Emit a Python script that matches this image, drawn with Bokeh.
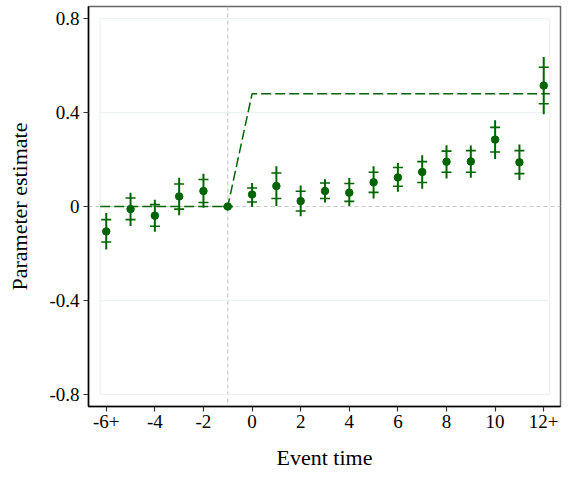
from bokeh.plotting import figure
from bokeh.models import FixedTicker, Range1d, ColumnDataSource, Span
from bokeh.embed import file_html
from bokeh.resources import INLINE

# ---- data ----
event_time = [-6, -5, -4, -3, -2, -1, 0, 1, 2, 3, 4, 5, 6, 7, 8, 9, 10, 11, 12]
estimate   = [-0.106, -0.011, -0.039, 0.043, 0.066, 0.0, 0.051, 0.087, 0.023, 0.066, 0.059,
              0.103, 0.124, 0.147, 0.191, 0.192, 0.285, 0.188, 0.515]
outer_hi   = [-0.028, 0.059, 0.029, 0.123, 0.139, 0.0, 0.100, 0.171, 0.089, 0.116, 0.121,
              0.171, 0.185, 0.218, 0.261, 0.260, 0.367, 0.264, 0.637]
outer_lo   = [-0.183, -0.083, -0.108, -0.037, -0.005, 0.0, -0.002, 0.002, -0.042, 0.017, 0.002,
              0.034, 0.063, 0.076, 0.119, 0.122, 0.202, 0.113, 0.393]
inner_hi   = [-0.056, 0.036, 0.008, 0.096, 0.115, 0.0, 0.079, 0.143, 0.065, 0.100, 0.098,
              0.146, 0.166, 0.191, 0.236, 0.238, 0.337, 0.238, 0.593]
inner_lo   = [-0.151, -0.056, -0.084, -0.011, 0.017, 0.0, 0.019, 0.034, -0.019, 0.034, 0.022,
              0.060, 0.086, 0.102, 0.146, 0.146, 0.232, 0.140, 0.438]

# true effect path
true_x = [-6.25, -1, 0, 12.25]
true_y = [0.0, 0.0, 0.48, 0.48]

x_ticks = [-6, -4, -2, 0, 2, 4, 6, 8, 10, 12]
x_labels = ["-6+", "-4", "-2", "0", "2", "4", "6", "8", "10", "12+"]
y_ticks = [-0.8, -0.4, 0, 0.4, 0.8]
y_labels = ["-0.8", "-0.4", "0", "0.4", "0.8"]

FONT = "Liberation Serif"
GREEN = "#006400"

p = figure(width=562, height=472, output_backend="svg", toolbar_location=None,
           x_range=Range1d(-6.73, 12.69), y_range=Range1d(-0.852, 0.852),
           min_border_left=88, min_border_right=2, min_border_top=6, min_border_bottom=66)

p.xgrid.visible = False
p.ygrid.visible = False
p.background_fill_color = "white"
p.outline_line_color = "#666666"
p.outline_line_width = 1.5

# light panel grid (at y ticks and x limits of data area)
gx0, gx1 = -6.25, 12.25
gl = [t for t in y_ticks if t != 0]
p.segment(x0=[gx0] * len(gl), x1=[gx1] * len(gl), y0=gl, y1=gl,
          line_color="#eaf2f2", line_width=1.2)
p.segment(x0=[gx0, gx1], x1=[gx0, gx1], y0=[y_ticks[0]] * 2, y1=[y_ticks[-1]] * 2,
          line_color="#eaf2f2", line_width=1.2)

# reference lines
p.add_layout(Span(location=0, dimension="width", line_color="#c8c8c8",
                  line_dash="4 3", line_width=1.2, level="underlay"))
p.add_layout(Span(location=-1, dimension="height", line_color="#c8c8c8",
                  line_dash="4 3", line_width=1.2, level="underlay"))

# true effect line
p.line(true_x, true_y, line_color=GREEN, line_dash="10 4", line_width=1.5)

src = ColumnDataSource(dict(x=event_time, y=estimate, ohi=outer_hi, olo=outer_lo,
                            ihi=inner_hi, ilo=inner_lo))
p.segment(x0="x", x1="x", y0="olo", y1="ohi", source=src, line_color=GREEN, line_width=2)
p.scatter(x="x", y="ihi", marker="dash", size=10, line_width=1.6, line_color=GREEN, source=src)
p.scatter(x="x", y="ilo", marker="dash", size=10, line_width=1.6, line_color=GREEN, source=src)
p.scatter(x="x", y="y", size=7.5, fill_color=GREEN, line_color=GREEN, source=src)

# axes
for ax in (p.xaxis[0], p.yaxis[0]):
    ax.axis_line_color = "black"
    ax.axis_line_width = 1.5
    ax.major_tick_line_color = "#333333"
    ax.major_tick_line_width = 1.2
    ax.major_tick_out = 5
    ax.major_tick_in = 0
    ax.minor_tick_line_color = None
    ax.major_label_text_font = FONT
    ax.major_label_text_font_size = "19px"
    ax.major_label_text_color = "black"
    ax.axis_label_text_font = FONT
    ax.axis_label_text_font_size = "22px"
    ax.axis_label_text_font_style = "normal"
    ax.axis_label_text_color = "black"

p.xaxis.ticker = FixedTicker(ticks=x_ticks)
p.xaxis.major_label_overrides = {t: l for t, l in zip(x_ticks, x_labels)}
p.yaxis.ticker = FixedTicker(ticks=y_ticks)
p.yaxis.major_label_overrides = {t: l for t, l in zip(y_ticks, y_labels)}
p.xaxis.axis_label = "Event time"
p.yaxis.axis_label = "Parameter estimate"
p.xaxis.axis_label_standoff = 14
p.yaxis.axis_label_standoff = 14
p.xaxis.major_label_standoff = 3
p.yaxis.major_label_standoff = 4

open("out.html", "w").write(file_html(p, INLINE))
